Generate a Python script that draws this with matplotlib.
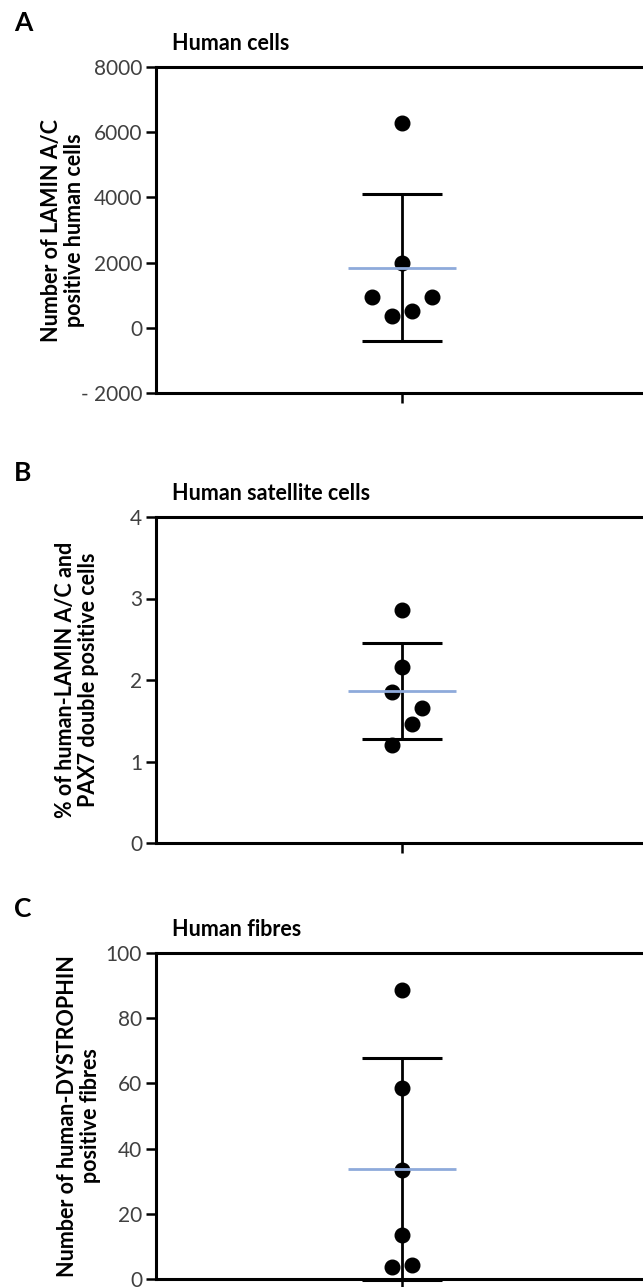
import numpy as np
import matplotlib.pyplot as plt

# values (one group per panel)
cells = [6290, 1990, 950, 360, 510, 950]
cells_jitter = [0.0, 0.0, -0.12, -0.04, 0.04, 0.12]

sat_cells = [2.86, 2.155, 1.857, 1.653, 1.457, 1.204]
sat_jitter = [0.0, 0.0, -0.04, 0.08, 0.04, -0.04]

fibres = [88.6, 58.5, 33.5, 13.4, 3.7, 4.4]
fibres_jitter = [0.0, 0.0, 0.0, 0.0, -0.04, 0.04]

panels = [
    dict(letter='A', title='Human cells', data=cells, jit=cells_jitter,
         ylim=(-2000, 8000), ticks=[-2000, 0, 2000, 4000, 6000, 8000],
         ticklabels=['- 2000', '0', '2000', '4000', '6000', '8000'],
         ylabel='Number of LAMIN A/C\npositive human cells',
         top=67, label_x=85),
    dict(letter='B', title='Human satellite cells', data=sat_cells, jit=sat_jitter,
         ylim=(0, 4), ticks=[0, 1, 2, 3, 4],
         ticklabels=['0', '1', '2', '3', '4'],
         ylabel='% of human-LAMIN A/C and\nPAX7 double positive cells',
         top=517, label_x=99),
    dict(letter='C', title='Human fibres', data=fibres, jit=fibres_jitter,
         ylim=(0, 100), ticks=[0, 20, 40, 60, 80, 100],
         ticklabels=['0', '20', '40', '60', '80', '100'],
         ylabel='Number of human-DYSTROPHIN\npositive fibres',
         top=953, label_x=101),
]

plt.rcParams['font.family'] = ['Lato', 'DejaVu Sans']

W, H = 643, 1287
fig = plt.figure(figsize=(W / 100, H / 100), dpi=100)

for p in panels:
    top = p['top']
    ax = fig.add_axes([156 / W, 1 - (top + 326) / H, 492 / W, 326 / H])
    vals = np.array(p['data'])
    m = vals.mean()
    sd = vals.std(ddof=1)

    ax.vlines(0, m - sd, m + sd, color='black', lw=2.0, zorder=1, clip_on=False)
    ax.hlines([m - sd, m + sd], -0.163, 0.163, color='black', lw=2.2, zorder=1, clip_on=False)
    ax.plot(p['jit'], vals, 'o', color='black', markersize=10.5, zorder=2, clip_on=False)
    ax.hlines(m, -0.22, 0.22, color='#8eaadb', lw=2.0, zorder=3)

    ax.set_xlim(-1, 1)
    ax.set_ylim(*p['ylim'])
    ax.set_xticks([0])
    ax.set_xticklabels([''])
    ax.set_yticks(p['ticks'])
    ax.set_yticklabels(p['ticklabels'], fontsize=15, color='#404040')
    ax.tick_params(axis='both', direction='out', length=7, width=1.8, pad=3)
    for s in ax.spines.values():
        s.set_linewidth(2.2)

    ax.set_ylabel(p['ylabel'], fontsize=15.5, fontweight='bold', linespacing=1.1)
    ax.yaxis.set_label_coords((p['label_x'] - 156) / 492, 0.5)

    fig.text(14 / W, 1 - (top - 44) / H, p['letter'], fontsize=19, fontweight='bold',
             ha='left', va='center')
    fig.text(172 / W, 1 - (top - 24) / H, p['title'], fontsize=15.5, fontweight='bold',
             ha='left', va='center')

fig.savefig('out.png', dpi=100)
